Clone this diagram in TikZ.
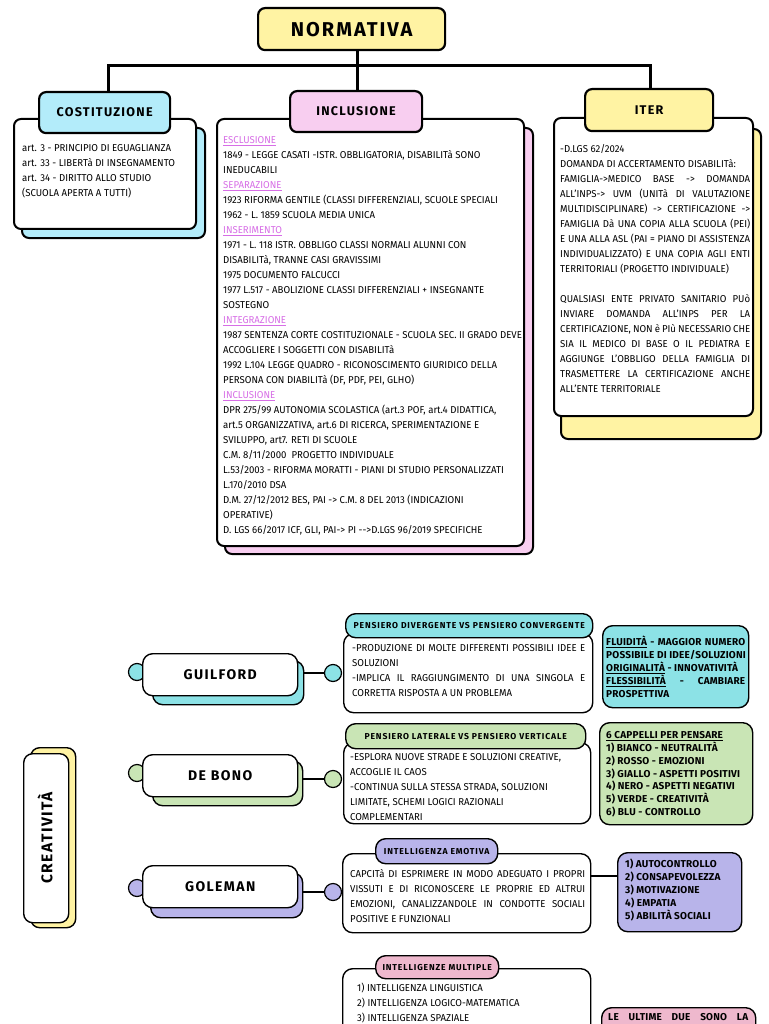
\documentclass[tikz,border=0pt]{standalone}
\usepackage{fontspec}
\setmainfont[FakeStretch=0.96]{Fira Sans}
\newfontfamily\spacedfont[LetterSpace=10]{Fira Sans}
\newfontfamily\markfont[LetterSpace=2]{Fira Sans}
\usetikzlibrary{shapes}

\definecolor{yel}{HTML}{FFF3A3}
\definecolor{sky}{HTML}{B3ECFA}
\definecolor{rosa}{HTML}{F8CEF0}
\definecolor{aqua}{HTML}{8CE2E6}
\definecolor{verde}{HTML}{C9E5B5}
\definecolor{lilla}{HTML}{B8B4EA}
\definecolor{rosso}{HTML}{EEB8CD}
\definecolor{viola}{HTML}{D76EE6}

\newcommand{\sect}[1]{\textcolor{viola}{\underline{#1}}}
\newcommand{\jl}[2]{\makebox[#1][s]{#2}}

\begin{document}
\begin{tikzpicture}[x=1pt,y=-1pt,
  card/.style 2 args={draw,line width=2pt,rounded corners=7pt,fill=white,inner sep=0pt,
    anchor=north west,minimum width=#1pt,minimum height=#2pt},
  head/.style 2 args={card={#1}{#2},line width=2.2pt,font=\spacedfont\bfseries\fontsize{12.6}{12.6}\selectfont},
  soft/.style 2 args={card={#1}{#2},line width=1.4pt,rounded corners=10pt},
  pill/.style 2 args={soft={#1}{#2},font=\spacedfont\bfseries\fontsize{8.6}{8.6}\selectfont},
  tag/.style 2 args={soft={#1}{#2},font=\spacedfont\bfseries\fontsize{14}{14}\selectfont},
  body/.style={inner sep=0pt,anchor=north west,align=left,font=\fontsize{10}{15}\selectfont},
  boldbody/.style={body,font=\markfont\bfseries\fontsize{10}{12.9}\selectfont},
  dot/.style={circle,draw,line width=1.2pt,fill=#1,minimum size=17pt,inner sep=0pt},
  tree/.style={line width=3pt},
  link/.style={line width=1.2pt}]
\fill[white] (0,0) rectangle (768,1024);
\useasboundingbox (0,0) rectangle (768,1024);

\node[card={183}{110},fill=sky] (costS) at (21,127) {};
\node[card={182}{110}] (cost) at (13,118) {};
\node[card={308}{426},fill=rosa] (inclS) at (224,127) {};
\node[card={307}{427}] (incl) at (216,118) {};
\node[card={200}{310},fill=yel] (iterS) at (560,128) {};
\node[card={199}{298}] (iter) at (553,117) {};

\coordinate (bar) at (357,66);
\draw[tree] (108,91) |- (bar) -| (650,88);
\draw[tree] (357,49) -- (357,90);

\node[head={187}{42},fill=yel,font=\spacedfont\bfseries\fontsize{20}{20}\selectfont] (norm) at (257,7) {NORMATIVA};
\node[head={131}{41},fill=sky] (costH) at (38,91) {COSTITUZIONE};
\node[head={132}{41},fill=rosa] (inclH) at (289,90) {INCLUSIONE};
\node[head={128}{42},fill=yel] (iterH) at (584,88) {ITER};

\node[body] (costT) at (22,144) {art. 3 - PRINCIPIO DI EGUAGLIANZA\\
art. 33 - LIBERTà DI INSEGNAMENTO\\
art. 34 - DIRITTO ALLO STUDIO\\
(SCUOLA APERTA A TUTTI)};

\node[body] (inclT) at (223,136) {\sect{ESCLUSIONE}\\
1849 - LEGGE CASATI -ISTR. OBBLIGATORIA, DISABILITà SONO\\
INEDUCABILI\\
\sect{SEPARAZIONE}\\
1923 RIFORMA GENTILE (CLASSI DIFFERENZIALI, SCUOLE SPECIALI\\
1962 - L. 1859 SCUOLA MEDIA UNICA\\
\sect{INSERIMENTO}\\
1971 - L. 118 ISTR. OBBLIGO CLASSI NORMALI ALUNNI CON\\
DISABILITà, TRANNE CASI GRAVISSIMI\\
1975 DOCUMENTO FALCUCCI\\
1977 L.517 - ABOLIZIONE CLASSI DIFFERENZIALI + INSEGNANTE\\
SOSTEGNO\\
\sect{INTEGRAZIONE}\\
1987 SENTENZA CORTE COSTITUZIONALE - SCUOLA SEC. II GRADO DEVE\\
ACCOGLIERE I SOGGETTI CON DISABILITà\\
1992 L.104 LEGGE QUADRO - RICONOSCIMENTO GIURIDICO DELLA\\
PERSONA CON DIABILITà (DF, PDF, PEI, GLHO)\\
\sect{INCLUSIONE}\\
DPR 275/99 AUTONOMIA SCOLASTICA (art.3 POF, art.4 DIDATTICA,\\
art.5 ORGANIZZATIVA, art.6 DI RICERCA, SPERIMENTAZIONE E\\
SVILUPPO, art7. RETI DI SCUOLE\\
C.M. 8/11/2000 \ PROGETTO INDIVIDUALE\\
L.53/2003 - RIFORMA MORATTI - PIANI DI STUDIO PERSONALIZZATI\\
L.170/2010 DSA\\
D.M. 27/12/2012 BES, PAI -> C.M. 8 DEL 2013 (INDICAZIONI\\
OPERATIVE)\\
D. LGS 66/2017 ICF, GLI, PAI-> PI -{}->D.LGS 96/2019 SPECIFICHE};

\node[body] (iterT) at (560,144) {-D.LGS 62/2024\\
DOMANDA DI ACCERTAMENTO DISABILITà:\\
\jl{190pt}{FAMIGLIA->MEDICO BASE -> DOMANDA}\\
\jl{190pt}{ALL'INPS-> UVM (UNITà DI VALUTAZIONE}\\
\jl{190pt}{MULTIDISCIPLINARE) -> CERTIFICAZIONE ->}\\
\jl{190pt}{FAMIGLIA Dà UNA COPIA ALLA SCUOLA (PEI)}\\
\jl{190pt}{E UNA ALLA ASL (PAI = PIANO DI ASSISTENZA}\\
\jl{190pt}{INDIVIDUALIZZATO) E UNA COPIA AGLI ENTI}\\
TERRITORIALI (PROGETTO INDIVIDUALE)\\
\mbox{}\\
\jl{190pt}{QUALSIASI ENTE PRIVATO SANITARIO PUò}\\
\jl{190pt}{INVIARE DOMANDA ALL'INPS PER LA}\\
\jl{190pt}{CERTIFICAZIONE, NON è PIù NECESSARIO CHE}\\
\jl{190pt}{SIA IL MEDICO DI BASE O IL PEDIATRA E}\\
\jl{190pt}{AGGIUNGE L'OBBLIGO DELLA FAMIGLIA DI}\\
\jl{190pt}{TRASMETTERE LA CERTIFICAZIONE ANCHE}\\
ALL'ENTE TERRITORIALE};

\node[card={45}{180},line width=1.4pt,rounded corners=9pt,fill=yel] (creaS) at (30,747) {};
\node[card={45}{169},line width=1.4pt,rounded corners=9pt] (crea) at (23,753) {};
\node[rotate=90,font=\spacedfont\bfseries\fontsize{15.5}{15.5}\selectfont] (creaT) at (45,838) {CREATIVITÀ};

\node[dot=aqua] (guilL) at (137,672) {};
\node[dot=aqua] (guilR) at (333,673) {};
\node[soft={151}{44},fill=aqua] (guilS) at (152,660) {};
\node[tag={155}{42}] (guil) at (142,653) {GUILFORD};
\draw[link] (guilS.east |- guilR) -- (guilR);
\node[soft={249}{79}] (divB) at (343,633) {};
\node[pill={247}{24},fill=aqua] (divH) at (345,613) {PENSIERO DIVERGENTE VS PENSIERO CONVERGENTE};
\node[body] (divT) at (352,644) {\jl{233pt}{-PRODUZIONE DI MOLTE DIFFERENTI POSSIBILI IDEE E}\\
SOLUZIONI\\
\jl{233pt}{-IMPLICA IL RAGGIUNGIMENTO DI UNA SINGOLA E}\\
CORRETTA RISPOSTA A UN PROBLEMA};
\node[soft={146}{82},fill=aqua] (fluB) at (602,625) {};
\node[boldbody] (fluT) at (606,636) {\jl{139pt}{\underline{FLUIDITÀ} - MAGGIOR NUMERO}\\
POSSIBILE DI IDEE/SOLUZIONI\\
\underline{ORIGINALITÀ} - INNOVATIVITÀ\\
\jl{139pt}{\underline{FLESSIBILITÀ} - CAMBIARE}\\
PROSPETTIVA};

\node[dot=verde] (bonoL) at (137,773) {};
\node[dot=verde] (bonoR) at (333,779) {};
\node[soft={150}{45},fill=verde] (bonoS) at (152,760) {};
\node[tag={155}{42}] (bono) at (142,754) {DE BONO};
\draw[link] (bonoS.east |- bonoR) -- (bonoR);
\node[soft={247}{81}] (latB) at (343,742) {};
\node[pill={240}{25},fill=verde] (latH) at (345,723) {PENSIERO LATERALE VS PENSIERO VERTICALE};
\node[body] (latT) at (350,753) {-ESPLORA NUOVE STRADE E SOLUZIONI CREATIVE,\\
ACCOGLIE IL CAOS\\
-CONTINUA SULLA STESSA STRADA, SOLUZIONI\\
LIMITATE, SCHEMI LOGICI RAZIONALI\\
COMPLEMENTARI};
\node[soft={153}{102},fill=verde] (capB) at (599,722) {};
\node[boldbody] (capT) at (606,731) {\underline{6 CAPPELLI PER PENSARE}\\
1) BIANCO - NEUTRALITÀ\\
2) ROSSO - EMOZIONI\\
3) GIALLO - ASPETTI POSITIVI\\
4) NERO - ASPETTI NEGATIVI\\
5) VERDE - CREATIVITÀ\\
6) BLU - CONTROLLO};

\node[dot=lilla] (goleL) at (137,888) {};
\node[dot=lilla] (goleR) at (333,892) {};
\node[soft={152}{45},fill=lilla] (goleS) at (150,872) {};
\node[tag={155}{42}] (gole) at (142,865) {GOLEMAN};
\draw[link] (goleS.east |- goleR) -- (goleR);
\node[soft={248}{79}] (emoB) at (342,853) {};
\node[pill={122}{25},fill=lilla] (emoH) at (375,838) {INTELLIGENZA EMOTIVA};
\node[body] (emoT) at (350,869) {\jl{235pt}{CAPCITà DI ESPRIMERE IN MODO ADEGUATO I PROPRI}\\
\jl{235pt}{VISSUTI E DI RICONOSCERE LE PROPRIE ED ALTRUI}\\
\jl{235pt}{EMOZIONI, CANALIZZANDOLE IN CONDOTTE SOCIALI}\\
POSITIVE E FUNZIONALI};
\node[soft={124}{79},fill=lilla] (autoB) at (617,852) {};
\draw[link] (emoB.east |- 0,876) -- (autoB.west |- 0,876);
\node[boldbody] (autoT) at (625,859) {1) AUTOCONTROLLO\\
2) CONSAPEVOLEZZA\\
3) MOTIVAZIONE\\
4) EMPATIA\\
5) ABILITÀ SOCIALI};

\node[soft={248}{80}] (multB) at (342,968) {};
\node[pill={123}{23},fill=rosso] (multH) at (375,955) {INTELLIGENZE MULTIPLE};
\node[body] (multT) at (357,983) {1) INTELLIGENZA LINGUISTICA\\
2) INTELLIGENZA LOGICO-MATEMATICA\\
3) INTELLIGENZA SPAZIALE};
\node[soft={154}{40},fill=rosso] (ultB) at (601,1007) {};
\node[boldbody] (ultT) at (608,1013) {\jl{140pt}{LE ULTIME DUE SONO LA}};
\end{tikzpicture}
\end{document}
